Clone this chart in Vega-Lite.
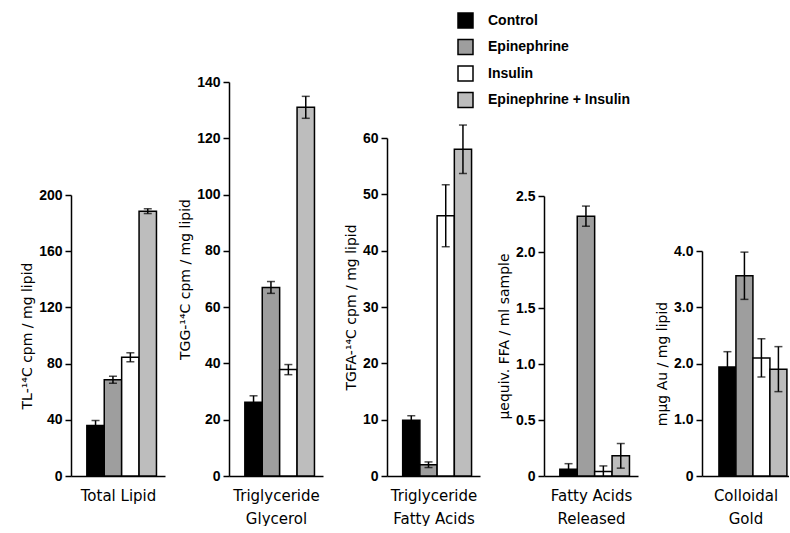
{
  "$schema": "https://vega.github.io/schema/vega-lite/v6.json",
  "background": "white",
  "padding": {"left": 20, "top": 12, "right": 0, "bottom": 0},
  "data": {"values": [
    {"panel": "TL", "treatment": "Control", "value": 36, "err": 3.5},
    {"panel": "TL", "treatment": "Epinephrine", "value": 68.5, "err": 2.5},
    {"panel": "TL", "treatment": "Insulin", "value": 84.5, "err": 3.2},
    {"panel": "TL", "treatment": "Epinephrine + Insulin", "value": 188.5, "err": 1.7},
    {"panel": "TGG", "treatment": "Control", "value": 26.2, "err": 2.3},
    {"panel": "TGG", "treatment": "Epinephrine", "value": 67, "err": 2.1},
    {"panel": "TGG", "treatment": "Insulin", "value": 37.8, "err": 1.8},
    {"panel": "TGG", "treatment": "Epinephrine + Insulin", "value": 131, "err": 3.9},
    {"panel": "TGFA", "treatment": "Control", "value": 9.9, "err": 0.8},
    {"panel": "TGFA", "treatment": "Epinephrine", "value": 2.0, "err": 0.5},
    {"panel": "TGFA", "treatment": "Insulin", "value": 46.2, "err": 5.5},
    {"panel": "TGFA", "treatment": "Epinephrine + Insulin", "value": 58.0, "err": 4.3},
    {"panel": "FFA", "treatment": "Control", "value": 0.06, "err": 0.05},
    {"panel": "FFA", "treatment": "Epinephrine", "value": 2.32, "err": 0.09},
    {"panel": "FFA", "treatment": "Insulin", "value": 0.04, "err": 0.05},
    {"panel": "FFA", "treatment": "Epinephrine + Insulin", "value": 0.18, "err": 0.11},
    {"panel": "Gold", "treatment": "Control", "value": 1.94, "err": 0.27},
    {"panel": "Gold", "treatment": "Epinephrine", "value": 3.56, "err": 0.42},
    {"panel": "Gold", "treatment": "Insulin", "value": 2.10, "err": 0.34},
    {"panel": "Gold", "treatment": "Epinephrine + Insulin", "value": 1.90, "err": 0.40}
  ]},
  "spacing": 64,
  "bounds": "flush",
  "hconcat": [
    {
      "width": 94, "height": 394,
      "transform": [{"filter": "datum.panel === 'TL'"}],
      "encoding": {
        "x": {"field": "treatment", "type": "nominal", "scale": {"domain": ["Control", "Epinephrine", "Insulin", "Epinephrine + Insulin"], "paddingInner": 0, "paddingOuter": 0.7, "align": 0.65}, "axis": {"title": "Total Lipid"}},
        "y": {"field": "value", "type": "quantitative", "scale": {"domain": [0, 200], "nice": false, "range": [394, 113]}, "axis": {"title": "TL-¹⁴C  cpm / mg  lipid", "values": [0, 40, 80, 120, 160, 200]}}
      },
      "layer": [
        {"mark": {"type": "bar", "stroke": "black", "strokeWidth": 1.5},
         "encoding": {"fill": {"field": "treatment", "type": "nominal", "scale": {"domain": ["Control", "Epinephrine", "Insulin", "Epinephrine + Insulin"], "range": ["#000000", "#9e9e9e", "#ffffff", "#bdbdbd"]}, "legend": {"title": null}}}},
        {"mark": {"type": "errorbar", "ticks": {"size": 8}, "color": "black", "thickness": 1.5, "clip": true},
         "encoding": {"yError": {"field": "err"}}}
      ]
    },
    {
      "width": 94, "height": 394,
      "transform": [{"filter": "datum.panel === 'TGG'"}],
      "encoding": {
        "x": {"field": "treatment", "type": "nominal", "scale": {"domain": ["Control", "Epinephrine", "Insulin", "Epinephrine + Insulin"], "paddingInner": 0, "paddingOuter": 0.7, "align": 0.65}, "axis": {"title": ["Triglyceride", "Glycerol"]}},
        "y": {"field": "value", "type": "quantitative", "scale": {"domain": [0, 140], "nice": false, "range": [394, 0]}, "axis": {"title": "TGG-¹⁴C  cpm / mg  lipid", "values": [0, 20, 40, 60, 80, 100, 120, 140]}}
      },
      "layer": [
        {"mark": {"type": "bar", "stroke": "black", "strokeWidth": 1.5},
         "encoding": {"fill": {"field": "treatment", "type": "nominal", "scale": {"domain": ["Control", "Epinephrine", "Insulin", "Epinephrine + Insulin"], "range": ["#000000", "#9e9e9e", "#ffffff", "#bdbdbd"]}, "legend": {"title": null}}}},
        {"mark": {"type": "errorbar", "ticks": {"size": 8}, "color": "black", "thickness": 1.5, "clip": true},
         "encoding": {"yError": {"field": "err"}}}
      ]
    },
    {
      "width": 93, "height": 394,
      "transform": [{"filter": "datum.panel === 'TGFA'"}],
      "encoding": {
        "x": {"field": "treatment", "type": "nominal", "scale": {"domain": ["Control", "Epinephrine", "Insulin", "Epinephrine + Insulin"], "paddingInner": 0, "paddingOuter": 0.7, "align": 0.65}, "axis": {"title": ["Triglyceride", "Fatty Acids"]}},
        "y": {"field": "value", "type": "quantitative", "scale": {"domain": [0, 60], "nice": false, "range": [394, 56]}, "axis": {"title": "TGFA-¹⁴C  cpm / mg  lipid", "values": [0, 10, 20, 30, 40, 50, 60]}}
      },
      "layer": [
        {"mark": {"type": "bar", "stroke": "black", "strokeWidth": 1.5},
         "encoding": {"fill": {"field": "treatment", "type": "nominal", "scale": {"domain": ["Control", "Epinephrine", "Insulin", "Epinephrine + Insulin"], "range": ["#000000", "#9e9e9e", "#ffffff", "#bdbdbd"]}, "legend": {"title": null}}}},
        {"mark": {"type": "errorbar", "ticks": {"size": 8}, "color": "black", "thickness": 1.5, "clip": true},
         "encoding": {"yError": {"field": "err"}}}
      ]
    },
    {
      "width": 94, "height": 394,
      "transform": [{"filter": "datum.panel === 'FFA'"}],
      "encoding": {
        "x": {"field": "treatment", "type": "nominal", "scale": {"domain": ["Control", "Epinephrine", "Insulin", "Epinephrine + Insulin"], "paddingInner": 0, "paddingOuter": 0.7, "align": 0.65}, "axis": {"title": ["Fatty Acids", "Released"]}},
        "y": {"field": "value", "type": "quantitative", "scale": {"domain": [0, 2.5], "nice": false, "range": [394, 114]}, "axis": {"title": "μequiv. FFA / ml  sample", "values": [0, 0.5, 1.0, 1.5, 2.0, 2.5], "labelExpr": "datum.value === 0 ? '0' : format(datum.value, '.1f')"}}
      },
      "layer": [
        {"mark": {"type": "bar", "stroke": "black", "strokeWidth": 1.5},
         "encoding": {"fill": {"field": "treatment", "type": "nominal", "scale": {"domain": ["Control", "Epinephrine", "Insulin", "Epinephrine + Insulin"], "range": ["#000000", "#9e9e9e", "#ffffff", "#bdbdbd"]}, "legend": {"title": null}}}},
        {"mark": {"type": "errorbar", "ticks": {"size": 8}, "color": "black", "thickness": 1.5, "clip": true},
         "encoding": {"yError": {"field": "err"}}}
      ]
    },
    {
      "width": 87, "height": 394,
      "transform": [{"filter": "datum.panel === 'Gold'"}],
      "encoding": {
        "x": {"field": "treatment", "type": "nominal", "scale": {"domain": ["Control", "Epinephrine", "Insulin", "Epinephrine + Insulin"], "paddingInner": 0, "paddingOuter": 0.56, "align": 0.89}, "axis": {"title": ["Colloidal", "Gold"]}},
        "y": {"field": "value", "type": "quantitative", "scale": {"domain": [0, 4], "nice": false, "range": [394, 169]}, "axis": {"title": "mμg  Au / mg  lipid", "values": [0, 1, 2, 3, 4], "labelExpr": "datum.value === 0 ? '0' : format(datum.value, '.1f')"}}
      },
      "layer": [
        {"mark": {"type": "bar", "stroke": "black", "strokeWidth": 1.5},
         "encoding": {"fill": {"field": "treatment", "type": "nominal", "scale": {"domain": ["Control", "Epinephrine", "Insulin", "Epinephrine + Insulin"], "range": ["#000000", "#9e9e9e", "#ffffff", "#bdbdbd"]}, "legend": {"title": null}}}},
        {"mark": {"type": "errorbar", "ticks": {"size": 8}, "color": "black", "thickness": 1.5, "clip": true},
         "encoding": {"yError": {"field": "err"}}}
      ]
    }
  ],
  "config": {
    "view": {"stroke": null},
    "axis": {
      "domainColor": "black", "domainWidth": 1.5, "tickColor": "black", "tickWidth": 1.5, "tickSize": 6,
      "labelColor": "black", "labelFont": "Liberation Sans", "labelFontSize": 14, "labelFontWeight": "bold", "labelPadding": 3,
      "titleColor": "black", "titleFont": "DejaVu Sans", "titleFontSize": 14, "titleFontWeight": "normal", "grid": false
    },
    "axisX": {"labels": false, "ticks": false, "titlePadding": 12, "titleFontSize": 15, "titleLineHeight": 23},
    "axisY": {"titlePadding": 4},
    "legend": {
      "orient": "none", "legendX": 386, "legendY": -70, "padding": 0,
      "symbolType": "square", "symbolSize": 225, "symbolStrokeColor": "black", "symbolStrokeWidth": 1.5,
      "labelFont": "Liberation Sans", "labelFontSize": 14, "labelFontWeight": "bold", "labelColor": "black",
      "labelOffset": 14, "rowPadding": 5.5
    }
  }
}
